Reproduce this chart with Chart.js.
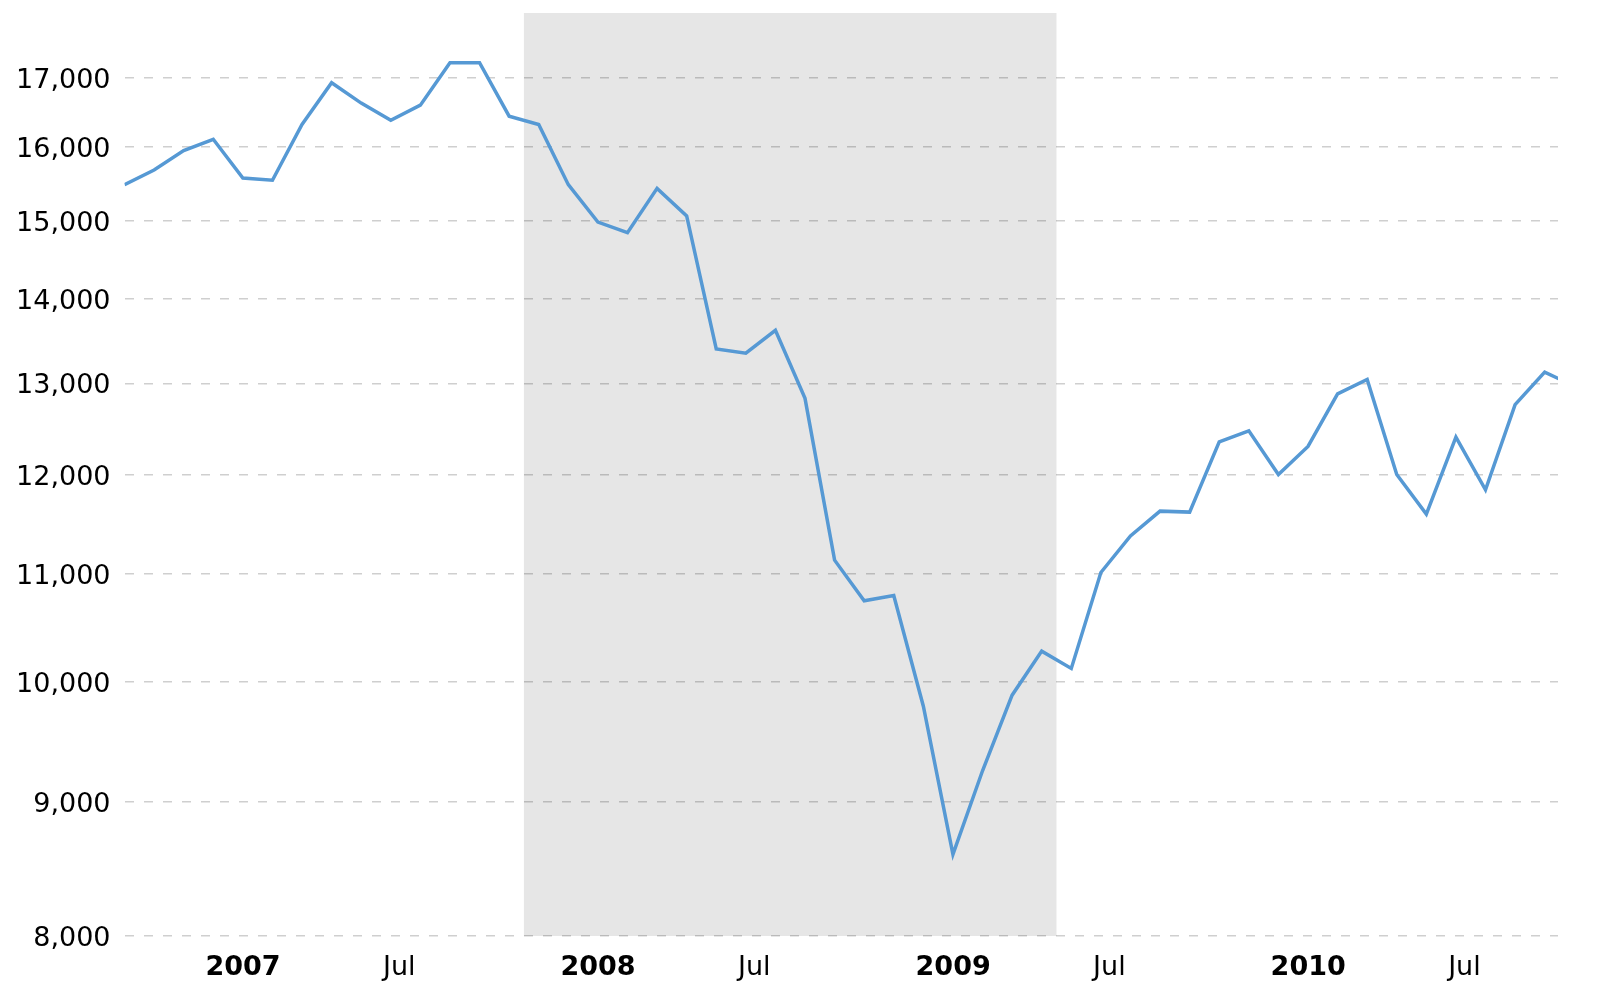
<!DOCTYPE html>
<html>
<head>
<meta charset="utf-8">
<script src="https://cdn.jsdelivr.net/npm/chart.js@4.4.1/dist/chart.umd.min.js"></script>
<style>
  html, body { margin: 0; padding: 0; background: #fff; }
</style>
</head>
<body>
<canvas id="myChart" width="1600" height="991"></canvas>
<script>
// monthly values, Oct 2006 - Nov 2010
const months = [
    "2006-10", "2006-11", "2006-12",
    "2007-01", "2007-02", "2007-03", "2007-04", "2007-05", "2007-06",
    "2007-07", "2007-08", "2007-09", "2007-10", "2007-11", "2007-12",
    "2008-01", "2008-02", "2008-03", "2008-04", "2008-05", "2008-06",
    "2008-07", "2008-08", "2008-09", "2008-10", "2008-11", "2008-12",
    "2009-01", "2009-02", "2009-03", "2009-04", "2009-05", "2009-06",
    "2009-07", "2009-08", "2009-09", "2009-10", "2009-11", "2009-12",
    "2010-01", "2010-02", "2010-03", "2010-04", "2010-05", "2010-06",
    "2010-07", "2010-08", "2010-09", "2010-10", "2010-11"
];
const values = [
    15480, 15680, 15950,
    16110, 15570, 15540, 16320, 16930, 16630,
    16380, 16600, 17230, 17230, 16440, 16320,
    15480, 14980, 14840, 15430, 15060, 13400,
    13350, 13620, 12830, 11130, 10740, 10790,
    9790, 8595, 9250, 9885, 10275, 10120,
    11010, 11370, 11620, 11610, 12350, 12470,
    12000, 12300, 12880, 13045, 12000, 11590,
    12400, 11840, 12760, 13130, 12970
];

const yTicks = [8000, 9000, 10000, 11000, 12000, 13000, 14000, 15000, 16000, 17000];
const xTickMonths = ["2007-01", "2007-07", "2008-01", "2008-07", "2009-01", "2009-07", "2010-01", "2010-07"];
const xTickLabels = ["2007", "Jul", "2008", "Jul", "2009", "Jul", "2010", "Jul"];
const recession = ["2007-12", "2009-06"];

// months counted from Jan 2007
function monthIndex(str) {
    const parts = str.split("-");
    return (Number(parts[0]) - 2007) * 12 + Number(parts[1]) - 1;
}

const points = months.map((m, i) => ({ x: monthIndex(m) + 0.5, y: values[i] }));
const xTickValues = xTickMonths.map(monthIndex);

const recessionShade = {
    id: "recessionShade",
    beforeDraw(chart) {
        const { ctx, chartArea, scales } = chart;
        const x0 = scales.x.getPixelForValue(monthIndex(recession[0]));
        const x1 = scales.x.getPixelForValue(monthIndex(recession[1]));
        ctx.save();
        ctx.fillStyle = "#e6e6e6";
        ctx.fillRect(x0, chartArea.top, x1 - x0, chartArea.bottom - chartArea.top);
        ctx.restore();
    }
};

Chart.defaults.font.family = "Verdana, 'DejaVu Sans', sans-serif";
Chart.defaults.color = "#000";

const myChart = document.getElementById("myChart");
new Chart(myChart, {
    type: "line",
    data: {
        datasets: [{
            data: points,
            borderColor: "rgb(86, 153, 212)",
            borderWidth: 3.5,
            pointRadius: 0,
            tension: 0,
            fill: false
        }]
    },
    options: {
        responsive: false,
        animation: false,
        devicePixelRatio: 1,
        layout: { padding: { top: 13, right: 42, left: 0, bottom: 0 } },
        plugins: { legend: { display: false }, tooltip: { enabled: false } },
        scales: {
            x: {
                type: "linear",
                min: monthIndex(months[0]) + 0.5,
                max: 45.95,
                grid: { display: false },
                border: { display: false },
                afterBuildTicks: (axis) => {
                    axis.ticks = xTickValues.map((v) => ({ value: v }));
                },
                afterFit: (scale) => {
                    scale.height = 55;
                },
                ticks: {
                    autoSkip: false,
                    maxRotation: 0,
                    align: "start",
                    padding: 8,
                    labelOffset: 7,
                    font: (ctx) => ({
                        size: 27,
                        weight: ctx.tick && xTickLabels[xTickValues.indexOf(ctx.tick.value)] !== "Jul" ? "bold" : "normal"
                    }),
                    callback: (value) => {
                        const i = xTickValues.indexOf(value);
                        return i >= 0 ? xTickLabels[i] : "";
                    }
                }
            },
            y: {
                type: "logarithmic",
                min: 8000,
                max: 18000,
                border: { display: false, dash: [9, 10] },
                grid: {
                    color: "rgba(0, 0, 0, 0.19)",
                    lineWidth: 1.5,
                    drawTicks: false
                },
                afterBuildTicks: (axis) => {
                    axis.ticks = yTicks.map((v) => ({ value: v }));
                },
                afterFit: (scale) => {
                    scale.width = 124.5;
                    scale.paddingTop = 0;
                    scale.paddingBottom = 0;
                },
                ticks: {
                    padding: 14,
                    labelOffset: 3,
                    font: { size: 27 },
                    callback: (value) => Number(value).toLocaleString("en-US")
                }
            }
        }
    },
    plugins: [recessionShade]
});
</script>
</body>
</html>
